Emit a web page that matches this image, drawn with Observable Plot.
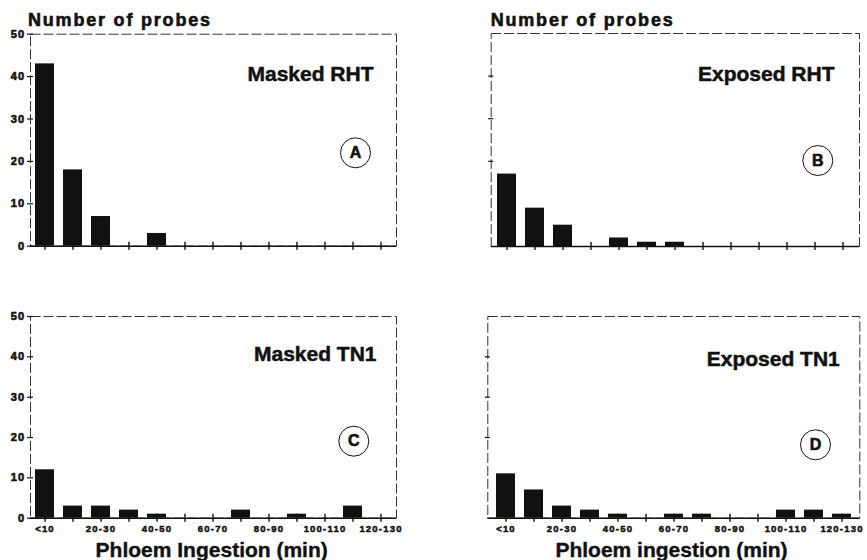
<!DOCTYPE html>
<html>
<head>
<meta charset="utf-8">
<script src="https://cdn.jsdelivr.net/npm/d3@7"></script>
<script src="https://cdn.jsdelivr.net/npm/@observablehq/plot@0.6"></script>
<style>
  body { margin: 0; background: #fff; }
  #fig { position: relative; width: 867px; height: 560px; font-family: "Liberation Sans", Arial, sans-serif; color: #111; overflow: hidden; }
  .abs { position: absolute; white-space: nowrap; font-weight: 700; }
  .ttl { font-size: 18px; line-height: 18px; letter-spacing: 1.8px; -webkit-text-stroke: 0.6px #111; }
  .xl { font-size: 21px; line-height: 21px; transform: translateX(-50%); -webkit-text-stroke: 0.4px #111; }
</style>
</head>
<body>
<div id="fig"></div>
<script>
// Categories (phloem ingestion, min) and tick labels
const categories = ["<10","10-20","20-30","30-40","40-50","50-60","60-70","70-80","80-90","90-100","100-110","110-120","120-130"];
const xTickLabels = ["<10","20-30","40-50","60-70","80-90","100-110","120-130"];
const yTickValues = [0, 10, 20, 30, 40, 50];
const yTickMarksRight = [20, 30, 40];

// Number of probes per class
const maskedRHT  = [43, 18, 7, 0, 3, 0, 0, 0, 0, 0, 0, 0, 0];
const exposedRHT = [17, 9, 5, 0, 2, 1, 1, 0, 0, 0, 0, 0, 0];
const maskedTN1  = [12, 3, 3, 2, 1, 0, 0, 2, 0, 1, 0, 3, 0];
const exposedTN1 = [11, 7, 3, 2, 1, 0, 1, 1, 0, 0, 2, 2, 1];

const panelTitles = ["Masked RHT", "Exposed RHT", "Masked TN1", "Exposed TN1"];
const panelLetters = ["A", "B", "C", "D"];
const yTitle = "Number of probes";
const xTitles = ["Phloem Ingestion (min)", "Phloem ingestion (min)"];

const fig = document.getElementById("fig");
const FONT = "Liberation Sans, Arial, sans-serif";
const blank = () => "";

function panel(values, title, letter, cfg) {
  const data = categories.map((c, i) => ({cat: c, n: values[i]})).filter(d => d.n > 0);
  const marks = [
    Plot.frame({stroke: "#333", strokeWidth: 1, strokeDasharray: "10,3"}),
    Plot.barY(data, {x: "cat", y: "n", fill: "#111"}),
    Plot.ruleY([0], {stroke: "#111", strokeWidth: 1.5}),
    Plot.axisX(categories, {tickSize: 8, dy: -4, stroke: "#111", strokeWidth: 1.4, tickFormat: blank, label: null}),
    Plot.text([title], {frameAnchor: "top-right", dx: cfg.tdx, dy: cfg.tdy, textAnchor: "end", lineAnchor: "middle",
      fontSize: 21, fontWeight: "bold", fill: "#111", stroke: "#111", strokeWidth: 0.5}),
    Plot.dot([letter], {frameAnchor: "top-right", dx: cfg.cdx, dy: cfg.cdy, r: 15, stroke: "#111", strokeWidth: 1, fill: "white"}),
    Plot.text([letter], {frameAnchor: "top-right", dx: cfg.cdx, dy: cfg.cdy, textAnchor: "middle", lineAnchor: "middle",
      fontSize: 16, fontWeight: "bold", fill: "#111", stroke: "#111", strokeWidth: 0.6})
  ];
  if (cfg.yLabels) {
    marks.push(Plot.axisY(yTickValues, {tickSize: 6, dx: 3, stroke: "#111", strokeWidth: 1.2, tickFormat: blank, label: null}));
    marks.push(Plot.axisY(yTickValues, {tickSize: 0, tickPadding: 5, fontSize: 11, fontWeight: "bold", label: null, fill: "#111",
      textStroke: "#111", textStrokeWidth: 0.6}));
  } else {
    marks.push(Plot.axisY(yTickMarksRight, {tickSize: 5, dx: 2.5, stroke: "#111", strokeWidth: 1.2, tickFormat: blank, label: null}));
  }
  if (cfg.xLabels) {
    marks.push(Plot.axisX(xTickLabels, {tickSize: 0, tickPadding: 7, fontSize: 9.5, fontWeight: "bold", label: null, fill: "#111",
      textStroke: "#111", textStrokeWidth: 0.5}));
  }
  const svg = Plot.plot({
    width: cfg.width, height: cfg.height,
    marginLeft: cfg.mL, marginRight: cfg.mR, marginTop: cfg.mT, marginBottom: cfg.mB,
    style: {fontFamily: FONT, background: "transparent", color: "#111"},
    x: {type: "band", domain: categories, paddingInner: 0.32, paddingOuter: 0.17},
    y: {domain: [0, 50]},
    marks
  });
  svg.querySelectorAll('g[aria-label="x-axis tick label"]').forEach(g => g.setAttribute("letter-spacing", "1.2"));
  svg.querySelectorAll('g[aria-label="y-axis tick label"]').forEach(g => g.setAttribute("letter-spacing", "1.3"));
  svg.style.position = "absolute";
  svg.style.left = cfg.left + "px";
  svg.style.top = cfg.top + "px";
  svg.style.maxWidth = "none";
  fig.appendChild(svg);
}

panel(maskedRHT, panelTitles[0], panelLetters[0],
  {left: 0, top: 0, width: 420, height: 280, mL: 30, mR: 24, mT: 33.7, mB: 34.3,
   tdx: -23, tdy: 40.5, cdx: -41, cdy: 118.6, yLabels: true, xLabels: false});
panel(exposedRHT, panelTitles[1], panelLetters[1],
  {left: 440, top: 0, width: 427, height: 280, mL: 50.7, mR: 8, mT: 33, mB: 34,
   tdx: -25, tdy: 40.8, cdx: -41.7, cdy: 127, yLabels: false, xLabels: false});
panel(maskedTN1, panelTitles[2], panelLetters[2],
  {left: 0, top: 280, width: 420, height: 280, mL: 30, mR: 24, mT: 36, mB: 42.3,
   tdx: -20, tdy: 38.2, cdx: -42.7, cdy: 124.7, yLabels: true, xLabels: true});
panel(exposedTN1, panelTitles[3], panelLetters[3],
  {left: 440, top: 280, width: 427, height: 280, mL: 47.3, mR: 7.7, mT: 36, mB: 42.3,
   tdx: -20, tdy: 42.5, cdx: -44.3, cdy: 128.3, yLabels: false, xLabels: true});

function addText(txt, cls, left, top) {
  const d = document.createElement("div");
  d.className = "abs " + cls;
  d.textContent = txt;
  d.style.left = left + "px";
  d.style.top = top + "px";
  fig.appendChild(d);
}
addText(yTitle, "ttl", 28, 11.2);
addText(yTitle, "ttl", 490.7, 11.2);
addText(xTitles[0], "xl", 211.7, 538.9);
addText(xTitles[1], "xl", 671.5, 538.9);
</script>
</body>
</html>
